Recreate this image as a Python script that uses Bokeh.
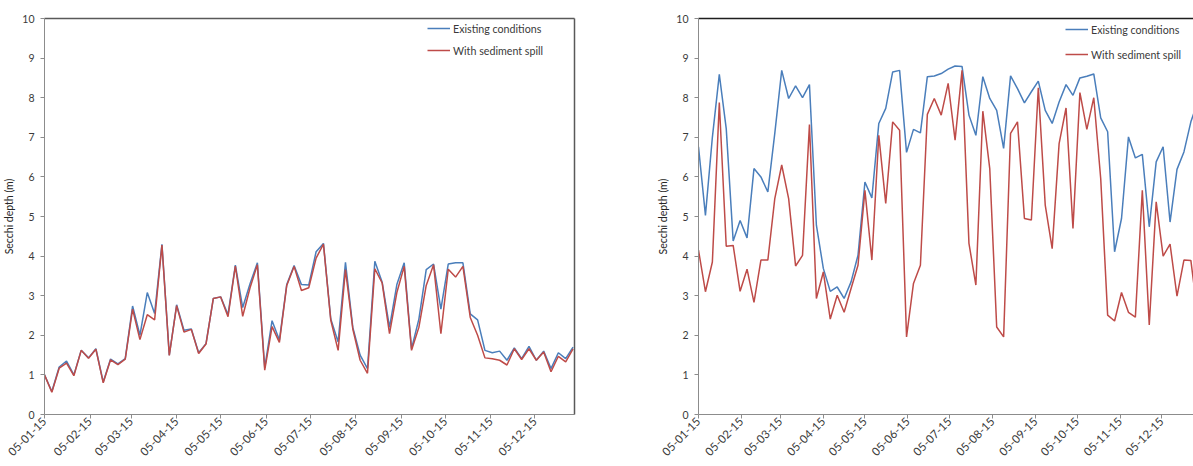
import datetime as dt
from math import pi
import pandas as pd
from bokeh.plotting import figure
from bokeh.models import (Legend, LegendItem, FixedTicker, DatetimeTickFormatter,
                          LinearAxis, Range1d)
from bokeh.layouts import row
from bokeh.embed import file_html
from bokeh.resources import INLINE

# ---------------- data ----------------
dates = list(pd.date_range("2015-01-05", periods=73, freq="5D").to_pydatetime())

tick_labels = ["05-01-15", "05-02-15", "05-03-15", "05-04-15", "05-05-15", "05-06-15",
               "05-07-15", "05-08-15", "05-09-15", "05-10-15", "05-11-15", "05-12-15"]

left_existing = [1.00, 0.58, 1.20, 1.35, 1.00, 1.62, 1.43, 1.66, 0.82, 1.40, 1.28, 1.41,
                 2.74, 2.00, 3.08, 2.55, 4.30, 1.50, 2.77, 2.13, 2.16, 1.56, 1.79, 2.93,
                 2.97, 2.52, 3.77, 2.70, 3.30, 3.83, 1.18, 2.37, 1.88, 3.28, 3.76, 3.28,
                 3.27, 4.11, 4.32, 2.41, 1.83, 3.84, 2.20, 1.50, 1.16, 3.87, 3.34, 2.20,
                 3.28, 3.83, 1.66, 2.41, 3.66, 3.80, 2.66, 3.80, 3.83, 3.83, 2.54, 2.39,
                 1.62, 1.56, 1.60, 1.37, 1.68, 1.41, 1.72, 1.37, 1.60, 1.16, 1.56, 1.41,
                 1.70]
left_spill = [1.00, 0.56, 1.17, 1.30, 0.98, 1.62, 1.42, 1.65, 0.80, 1.38, 1.26, 1.40,
              2.66, 1.89, 2.52, 2.39, 4.28, 1.49, 2.75, 2.08, 2.15, 1.54, 1.78, 2.93,
              2.97, 2.47, 3.75, 2.48, 3.20, 3.78, 1.12, 2.22, 1.82, 3.26, 3.74, 3.13,
              3.20, 3.95, 4.30, 2.38, 1.62, 3.66, 2.16, 1.37, 1.04, 3.68, 3.32, 2.04,
              3.08, 3.74, 1.62, 2.20, 3.26, 3.78, 2.04, 3.67, 3.47, 3.74, 2.45, 2.00,
              1.43, 1.41, 1.37, 1.25, 1.66, 1.39, 1.66, 1.37, 1.58, 1.08, 1.47, 1.33,
              1.66]

right_existing = [6.76, 5.03, 7.00, 8.59, 7.22, 4.38, 4.90, 4.46, 6.21, 6.00, 5.62, 7.10,
                  8.69, 7.98, 8.30, 8.00, 8.33, 4.78, 3.69, 3.11, 3.22, 2.93, 3.35, 4.02,
                  5.87, 5.47, 7.35, 7.73, 8.65, 8.69, 6.62, 7.20, 7.11, 8.53, 8.55, 8.61,
                  8.72, 8.80, 8.79, 7.56, 7.05, 8.53, 7.98, 7.68, 6.72, 8.55, 8.23, 7.87,
                  8.15, 8.42, 7.68, 7.35, 7.89, 8.33, 8.06, 8.50, 8.54, 8.60, 7.49, 7.14,
                  4.11, 4.95, 7.01, 6.48, 6.57, 4.74, 6.38, 6.76, 4.86, 6.19, 6.63, 7.39,
                  7.90]
right_spill = [4.15, 3.10, 3.85, 7.88, 4.25, 4.27, 3.11, 3.67, 2.83, 3.90, 3.90, 5.45,
               6.30, 5.45, 3.75, 4.02, 7.32, 2.93, 3.60, 2.41, 3.01, 2.58, 3.18, 3.77,
               5.66, 3.90, 7.05, 5.33, 7.39, 7.18, 1.96, 3.31, 3.77, 7.58, 7.98, 7.56,
               8.36, 6.93, 8.69, 4.32, 3.27, 7.66, 6.21, 2.21, 1.96, 7.10, 7.39, 4.95,
               4.91, 8.25, 5.29, 4.19, 6.84, 7.74, 4.70, 8.13, 7.20, 8.00, 5.96, 2.51,
               2.36, 3.08, 2.58, 2.46, 5.66, 2.26, 5.37, 4.00, 4.30, 2.99, 3.90, 3.89,
               2.50]

series_names = ["Existing conditions", "With sediment spill"]
colors = ["#4a7ebb", "#be4b48"]

FONT = "Lato"
TXT = "#3a3a3a"

tick_ms = [pd.Timestamp(dt.datetime.strptime(t, "%d-%m-%y")).value // 10**6 for t in tick_labels]
fmt = "%d-%m-%y"
formatter = DatetimeTickFormatter(milliseconds=fmt, seconds=fmt, minsec=fmt, minutes=fmt,
                                  hourmin=fmt, hours=fmt, days=fmt, months=fmt, years=fmt)


def make_panel(existing, spill, width, b_left, b_right, b_top, b_bottom,
               x_end_days, legend_loc, legend_spacing, top_color, right_color):
    start = dt.datetime(2015, 1, 5)
    p = figure(width=width, height=466, output_backend="svg", toolbar_location=None,
               x_axis_type="datetime",
               x_range=Range1d(start, start + dt.timedelta(days=x_end_days)),
               y_range=Range1d(0, 10),
               min_border_left=b_left, min_border_right=b_right,
               min_border_top=b_top, min_border_bottom=b_bottom)
    p.outline_line_color = None
    p.grid.visible = False
    p.background_fill_color = "white"
    p.border_fill_color = "white"

    r1 = p.line(dates, existing, line_color=colors[0], line_width=1.5)
    r2 = p.line(dates, spill, line_color=colors[1], line_width=1.5)

    # x axis
    xa = p.xaxis[0]
    xa.ticker = FixedTicker(ticks=tick_ms)
    xa.formatter = formatter
    xa.major_label_orientation = pi / 4
    xa.major_label_text_font = FONT
    xa.major_label_text_font_size = "11.5px"
    xa.major_label_text_color = TXT
    xa.major_label_standoff = 1
    xa.axis_line_color = "#8c8c8c"
    xa.major_tick_line_color = "#8c8c8c"
    xa.major_tick_in = 0
    xa.major_tick_out = 4
    xa.minor_tick_line_color = None

    # y axis
    ya = p.yaxis[0]
    ya.ticker = FixedTicker(ticks=list(range(11)))
    ya.major_label_text_font = FONT
    ya.major_label_text_font_size = "10.5px"
    ya.major_label_text_color = TXT
    ya.major_label_standoff = 6
    ya.axis_line_color = "#8c8c8c"
    ya.major_tick_line_color = "#8c8c8c"
    ya.major_tick_in = 0
    ya.major_tick_out = 4
    ya.minor_tick_line_color = None
    ya.axis_label = "Secchi depth (m)"
    ya.axis_label_text_font = FONT
    ya.axis_label_text_font_size = "10.5px"
    ya.axis_label_text_font_style = "normal"
    ya.axis_label_text_color = "#262626"
    ya.axis_label_standoff = 4

    # border lines (top / right)
    top = LinearAxis(ticker=FixedTicker(ticks=[]), axis_line_color=top_color,
                     axis_line_width=1.5, major_tick_line_color=None,
                     minor_tick_line_color=None, major_label_text_font_size="0px")
    p.add_layout(top, "above")
    if right_color is not None:
        rgt = LinearAxis(ticker=FixedTicker(ticks=[]), axis_line_color=right_color,
                         axis_line_width=1.5, major_tick_line_color=None,
                         minor_tick_line_color=None, major_label_text_font_size="0px")
        p.add_layout(rgt, "right")

    legend = Legend(items=[LegendItem(label=series_names[0], renderers=[r1]),
                           LegendItem(label=series_names[1], renderers=[r2])],
                    location=legend_loc, orientation="vertical",
                    border_line_color=None, background_fill_alpha=0,
                    label_text_font=FONT, label_text_font_size="10.7px",
                    label_text_color=TXT, glyph_width=23, glyph_height=16,
                    label_height=16, spacing=legend_spacing, padding=0, margin=0,
                    label_standoff=3)
    p.add_layout(legend)
    return p


p1 = make_panel(left_existing, left_spill, width=610, b_left=43, b_right=36,
                b_top=16, b_bottom=49, x_end_days=361.0, legend_loc=(383, 356),
                legend_spacing=6, top_color="#595959", right_color="#595959")
p2 = make_panel(right_existing, right_spill, width=583, b_left=88, b_right=0,
                b_top=18, b_bottom=52, x_end_days=356.9, legend_loc=(367, 352),
                legend_spacing=9, top_color="#1e1e1e", right_color=None)

layout = row(p1, p2)
open("out.html", "w").write(file_html(layout, INLINE))
